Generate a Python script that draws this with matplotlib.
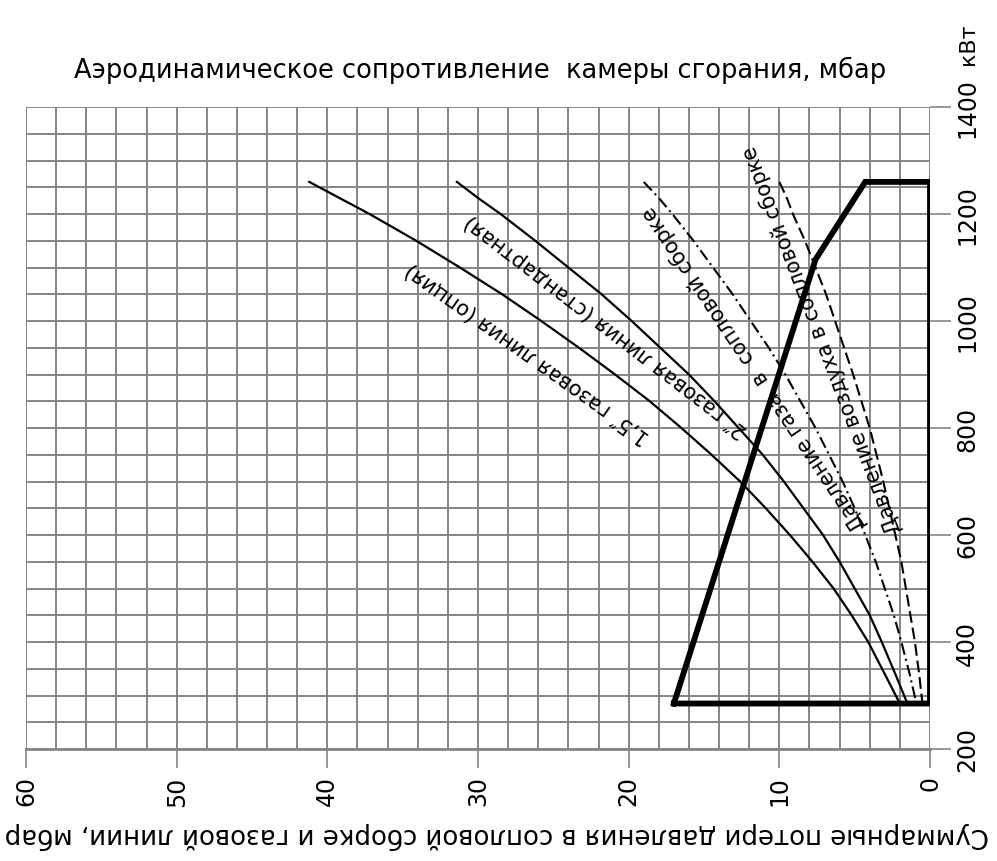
import numpy as np
import matplotlib
matplotlib.use('Agg')
import matplotlib.pyplot as plt

plt.rcParams['font.family'] = ['DejaVu Sans']
plt.rcParams['lines.scale_dashes'] = False

# power, kW (same levels for every curve)
kw_levels = [1260, 1230, 1200, 1150, 1100, 1050, 1000, 950, 900, 850, 800,
             750, 700, 650, 600, 550, 500, 450, 400, 340, 285]
# pressure losses, mbar
gas_line_15 = [41.2, 39.2, 37.2, 34.1, 31.2, 28.4, 25.8, 23.3, 20.9, 18.6, 16.5,
               14.5, 12.6, 10.9, 9.3, 7.8, 6.4, 5.2, 4.1, 3.0, 2.0]
gas_line_20 = [31.4, 30.0, 28.5, 26.2, 24.0, 21.8, 19.8, 17.9, 16.0, 14.3, 12.7,
               11.1, 9.7, 8.4, 7.1, 6.0, 5.0, 4.0, 3.2, 2.3, 1.5]
gas_nozzle = [19.0, 18.0, 17.1, 15.7, 14.4, 13.1, 11.9, 10.7, 9.6, 8.6, 7.6,
              6.7, 5.8, 5.0, 4.3, 3.6, 3.0, 2.4, 1.9, 1.35, 0.9]
air_nozzle = [10.0, 9.5, 9.1, 8.3, 7.6, 6.9, 6.3, 5.7, 5.1, 4.55, 4.0,
              3.55, 3.1, 2.7, 2.3, 1.9, 1.6, 1.3, 1.0, 0.72, 0.5]

# working field of the burner
field_mbar = [17.0, 0.0, 0.0, 4.3, 7.6, 17.0]
field_kw = [285, 285, 1260, 1260, 1115, 285]

x_ticks = [60, 50, 40, 30, 20, 10, 0]
y_ticks = [200, 400, 600, 800, 1000, 1200, 1400]

title = 'Аэродинамическое сопротивление  камеры сгорания, мбар'
xlabel = 'Суммарные потери давления в сопловой сборке и газовой линии, мбар'

W, H = 997, 862
fig = plt.figure(figsize=(W / 100, H / 100), dpi=100)
ax = fig.add_axes([26 / W, 1 - 750 / H, (930 - 26) / W, (750 - 108) / H])
ax.set_xlim(60, 0)
ax.set_ylim(200, 1400)

grid_col = '#858585'
ax.set_xticks(x_ticks)
ax.set_xticks(np.arange(0, 61, 2), minor=True)
ax.set_yticks(y_ticks)
ax.set_yticks(np.arange(200, 1401, 50), minor=True)
ax.grid(True, which='both', color=grid_col, lw=1.4, zorder=0)
ax.set_axisbelow(True)
for s in ['top', 'left', 'right']:
    ax.spines[s].set_visible(False)
ax.spines['bottom'].set_color(grid_col)
ax.spines['bottom'].set_linewidth(2)

ax.yaxis.tick_right()
ax.tick_params(axis='both', which='minor', length=0)
ax.tick_params(axis='x', which='major', length=14, width=1.2, color=grid_col,
               pad=5, labelsize=17)
ax.tick_params(axis='y', which='major', length=15, width=1.2, color=grid_col,
               pad=3, labelsize=17)
ax.set_xticklabels([str(v) for v in x_ticks], rotation=90, va='top', ha='center')
ax.set_yticklabels([str(v) for v in y_ticks], rotation=90, va='center', ha='left')

ax.plot(gas_line_15, kw_levels, color='black', lw=1.6, zorder=3)
ax.plot(gas_line_20, kw_levels, color='black', lw=1.6, zorder=3)
ax.plot(gas_nozzle, kw_levels, color='black', lw=1.5, zorder=3,
        dashes=[8.5, 3, 1.5, 3])
ax.plot(air_nozzle, kw_levels, color='black', lw=1.5, zorder=3,
        dashes=[8.5, 3.5])
ax.plot(field_mbar, field_kw, color='black', lw=4.2, zorder=4,
        solid_joinstyle='miter')

lab = dict(fontsize=15, ha='center', va='center', rotation_mode='anchor', zorder=5)
ax.text(26.7, 940, '1,5″ газовая линия (опция)', rotation=144.5, **lab)
ax.text(21.5, 992, '2″ газовая линия (стандартная)', rotation=142.5, **lab)
ax.text(11.7, 912, 'Давление газа  в  сопловой сборке', rotation=123.8, **lab)
ax.text(7.2, 966, 'Давление воздуха в сопловой сборке', rotation=110.8, **lab)

fig.text(480 / W, 1 - 70 / H, title, ha='center', va='center', fontsize=18.5)
fig.text(497 / W, 1 - 836 / H, xlabel, rotation=180, ha='center', va='center',
         fontsize=18.7)
fig.text(968 / W, 1 - 44 / H, 'кВт', rotation=90, ha='center', va='center',
         fontsize=16)

fig.savefig('out.png', dpi=100, facecolor='white')
